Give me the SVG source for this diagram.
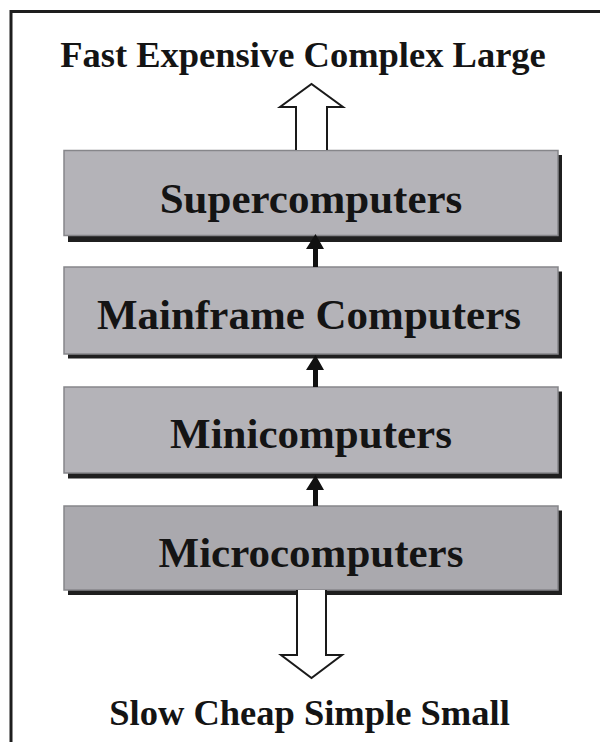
<svg xmlns="http://www.w3.org/2000/svg" width="600" height="742" viewBox="0 0 600 742">
<style>
.frame{stroke:#1e1e1e;stroke-width:3;fill:none}
.box{fill:#b4b3b8;stroke:#86868a;stroke-width:1.5}
.box.dark{fill:#aaa9ae}
.shadow{fill:#1f1f1f}
.lbl{font-family:"Liberation Serif","Times New Roman",serif;font-weight:bold;font-size:43px;fill:#141414;text-anchor:middle}
.cap{font-family:"Liberation Serif","Times New Roman",serif;font-weight:bold;font-size:36.5px;fill:#141414;text-anchor:middle}
.hollow{fill:#fff;stroke:#1a1a1a;stroke-width:2;stroke-linejoin:miter}
.solid{fill:#111;stroke:none}
</style>
<rect width="600" height="742" fill="#fff"/>
<path class="frame" d="M11,742 V11.5 H600"/>
<text class="cap" x="303" y="67">Fast Expensive Complex Large</text>
<text class="cap" x="309.5" y="725">Slow Cheap Simple Small</text>
<g id="supercomputers">
<rect class="shadow" x="68" y="155" width="494" height="87"/>
<rect class="box" x="64" y="150.5" width="494" height="85"/>
<text class="lbl" x="311" y="213">Supercomputers</text>
</g>
<g id="mainframe">
<rect class="shadow" x="68" y="271.5" width="494" height="87"/>
<rect class="box" x="64" y="267" width="494" height="87"/>
<text class="lbl" x="309" y="329">Mainframe Computers</text>
</g>
<g id="minicomputers">
<rect class="shadow" x="68" y="391.5" width="494" height="87"/>
<rect class="box" x="64" y="387" width="494" height="86"/>
<text class="lbl" x="311" y="448">Minicomputers</text>
</g>
<g id="microcomputers">
<rect class="shadow" x="68" y="510.5" width="494" height="84.5"/>
<rect class="box dark" x="64" y="506" width="494" height="84"/>
<text class="lbl" x="311" y="567">Microcomputers</text>
</g>
<g id="connectors">
<path class="hollow" d="M296,150 V107 H280 L311.5,84 L343,107 H327 V150"/>
<path class="hollow" d="M297,590 V655 H281 L311.5,678 L342,655 H326 V590"/>
<path class="solid" d="M313,267 V249 H306 L315.5,234 L324,249 H318 V267 Z"/>
<path class="solid" d="M313,387 V370 H306 L315.5,355 L324,370 H318 V387 Z"/>
<path class="solid" d="M313,506 V490 H306 L315.5,475 L324,490 H318 V506 Z"/>
</g>
</svg>
